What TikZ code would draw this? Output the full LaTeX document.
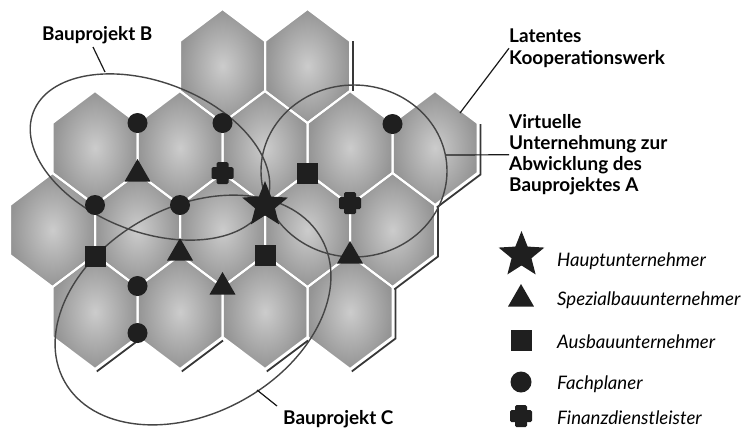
\documentclass[tikz,border=0pt]{standalone}
\usepackage{fontspec}
\setmainfont{Lato}
\usetikzlibrary{shapes.geometric}
\definecolor{hexin}{gray}{0.80}
\definecolor{hexout}{gray}{0.58}
\definecolor{symc}{gray}{0.12}
\definecolor{ringc}{gray}{0.27}
\definecolor{shadowc}{gray}{0.22}
\newcommand\hexpath[2]{({#1+42.5},{#2-25}) -- ({#1},{#2-57}) -- ({#1-42.5},{#2-25}) -- ({#1-42.5},{#2+25}) -- ({#1},{#2+57}) -- ({#1+42.5},{#2+25}) -- cycle}
\begin{document}
\begin{tikzpicture}[x=1bp,y=-1bp,
  hexfill/.style={inner color=hexin, outer color=hexout},
  hexedge/.style={draw=white, line width=2bp, line join=miter},
  shadowline/.style={draw=shadowc, line width=1.8bp},
  ringline/.style={draw=ringc, line width=1.4bp},
  leader/.style={draw=black!90, line width=1.2bp},
  lbl/.style={font=\fontsize{19}{21.3}\selectfont\bfseries, inner sep=0pt, align=left},
  leg/.style={font=\fontsize{18.7}{21}\selectfont\itshape, inner sep=0pt, anchor=base west},
  dotsym/.style={circle, fill=symc, inner sep=0pt, minimum size=20bp},
  sqsym/.style={rectangle, fill=symc, inner sep=0pt, minimum size=21bp},
  trisym/.style={regular polygon, regular polygon sides=3, fill=symc, inner sep=0pt, minimum size=30bp},
  hbar/.style={rectangle, fill=symc, inner sep=0pt, minimum width=22bp, minimum height=12bp, rounded corners=1.5bp},
  vbar/.style={rectangle, fill=symc, inner sep=0pt, minimum width=12bp, minimum height=22bp, rounded corners=1.5bp},
  starsym/.style={star, star points=5, star point ratio=2.3, fill=symc, inner sep=0pt, minimum size=48bp}
]
\useasboundingbox (0,0) rectangle (755,429);

% hexagon tiles
\foreach \r/\ks in {66/{4,6}, 148/{1,3,5,7,9}, 230/{0,2,4,6,8}, 312/{1,3,5,7}} {
  \foreach \k in \ks {
    \pgfmathsetmacro\cx{52.5+42.5*\k}
    \shade[hexfill] \hexpath{\cx}{\r};
  }
}
\foreach \r/\ks in {66/{4,6}, 148/{1,3,5,7,9}, 230/{0,2,4,6,8}, 312/{1,3,5,7}} {
  \foreach \k in \ks {
    \pgfmathsetmacro\cx{52.5+42.5*\k}
    \draw[hexedge] \hexpath{\cx}{\r};
  }
}
% shadow edges
\draw[shadowline] (353,41) -- (353,91);
\foreach \cx/\cy in {435/148, 392.5/230, 350/312}
  \draw[shadowline] ({\cx+45.5},{\cy-24}) -- ({\cx+45.5},{\cy+26.5}) -- ({\cx+1.8},{\cy+59.4});
\foreach \cx in {95, 180, 265}
  \draw[shadowline] ({\cx+43},{312+28.5}) -- ({\cx+1.8},{312+59.4});

% project ellipses
\draw[ringline, rotate around={-21:(150,157)}] (150,157) ellipse [x radius=125bp, y radius=75bp];
\draw[ringline] (354,171) ellipse [x radius=93bp, y radius=86bp];
\draw[ringline, rotate around={29:(193,310)}] (193,310) ellipse [x radius=147bp, y radius=103bp];

% symbols in the network
\node[dotsym] (c1) at (137.5,123) {};
\node[dotsym] (c2) at (222.5,123) {};
\node[trisym] (t1) at (137.5,174) {};
\node[hbar] (x1) at (222.5,173) {};
\node[vbar] (x1v) at (222.5,173) {};
\node[dotsym] (c3) at (95,205) {};
\node[dotsym] (c4) at (180,205) {};
\node[starsym] (s1) at (265,205) {};
\node[sqsym] (q1) at (307.5,173) {};
\node[hbar] (x2) at (350,203) {};
\node[vbar] (x2v) at (350,203) {};
\node[dotsym] (c5) at (392.5,124) {};
\node[sqsym] (q2) at (95,256) {};
\node[trisym] (t2) at (180,253) {};
\node[sqsym] (q3) at (265,255) {};
\node[trisym] (t3) at (350,256) {};
\node[dotsym] (c6) at (137.5,286) {};
\node[trisym] (t4) at (222.5,287) {};
\node[dotsym] (c7) at (137.5,333) {};

% labels
\node[lbl, anchor=base west] (labB) at (42,40.5) {Bauprojekt B};
\node[lbl, anchor=north west] (labL) at (509,29) {Latentes\\Kooperationswerk};
\node[lbl, anchor=north west] (labA) at (509,114) {Virtuelle\\Unternehmung zur\\Abwicklung des\\Bauprojektes A};
\node[lbl, anchor=base west] (labC) at (283,424) {Bauprojekt C};

\coordinate (bLab) at (93,47);
\coordinate (bEnd) at (105,72);
\coordinate (lEnd) at (460,113);
\coordinate (aEnd) at (446,155);
\coordinate (cLab) at (277,406);
\coordinate (cEnd) at (257,390);
\draw[leader] (bLab) -- (bEnd);
\draw[leader] (labL.west) -- (lEnd);
\draw[leader] (labA.west) -- (aEnd);
\draw[leader] (cLab) -- (cEnd);

% legend
\node[starsym] (ls) at (521.5,255) {};
\node[trisym] (lt) at (521,299) {};
\node[sqsym] (lq) at (521,340) {};
\node[dotsym, minimum size=21bp] (lc) at (521,382) {};
\node[hbar] (lx) at (521,416) {};
\node[vbar] (lxv) at (521,416) {};
\node[leg] (t1l) at (557,266) {Hauptunternehmer};
\node[leg] (t2l) at (557,305) {Spezialbauunternehmer};
\node[leg] (t3l) at (557,348) {Ausbauunternehmer};
\node[leg] (t4l) at (557,389) {Fachplaner};
\node[leg] (t5l) at (557,424) {Finanzdienstleister};
\end{tikzpicture}
\end{document}
